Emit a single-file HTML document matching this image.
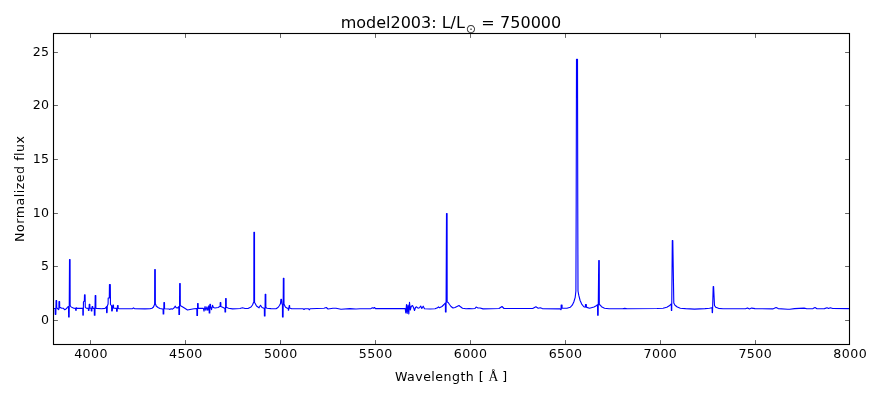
<!DOCTYPE html>
<html>
<head>
<meta charset="utf-8">
<title>model2003 spectrum</title>
<style>
html,body{margin:0;padding:0;background:#fff;}
body{width:880px;height:400px;overflow:hidden;}
svg{display:block;}
text{font-family:"DejaVu Sans","Liberation Sans",sans-serif;fill:#000;}
.tk text{font-size:12.6px;letter-spacing:0.42px;}
.lbl{font-size:12.6px;letter-spacing:0.45px;}
.ttl{font-size:16px;}
.sun{font-family:"DejaVu Sans",sans-serif;font-size:12.4px;fill:#3a3a3a;}
.serif{font-family:"Liberation Serif","DejaVu Serif",serif;font-size:13.6px;}
</style>
</head>
<body>
<svg width="880" height="400" viewBox="0 0 880 400">
<rect x="0" y="0" width="880" height="400" fill="#ffffff"/>
<defs><clipPath id="ax"><rect x="53.5" y="33.5" width="796.0" height="311.0"/></clipPath></defs>
<g clip-path="url(#ax)">
<path d="M53.50,308.50 L55.00,308.50 L55.19,308.50 L55.25,314.35 L55.85,314.35 L56.05,300.55 L56.65,300.55 L56.71,308.00 L57.20,308.20 L58.50,309.70 L58.91,309.00 L58.97,301.65 L59.62,301.65 L59.69,307.60 L60.40,307.60 L61.75,308.30 L63.50,308.30 L64.50,309.60 L65.50,309.40 L67.00,308.00 L68.10,306.50 L68.56,306.50 L68.62,316.95 L69.18,316.95 L69.52,259.45 L70.08,259.45 L70.14,305.50 L70.75,306.60 L72.25,307.60 L73.75,308.20 L75.40,308.40 L75.59,308.40 L75.65,310.15 L76.25,310.15 L76.10,307.75 L76.70,307.75 L76.76,308.30 L77.20,308.40 L82.50,308.30 L82.80,308.30 L82.85,315.10 L83.30,315.10 L83.45,301.80 L84.35,301.00 L84.50,294.90 L85.10,294.90 L85.30,307.30 L86.30,308.20 L88.10,308.40 L88.34,308.40 L88.40,310.35 L89.00,310.35 L89.25,304.25 L89.85,304.25 L89.91,308.20 L90.30,308.30 L91.00,308.30 L91.19,308.30 L91.25,310.85 L91.85,310.85 L92.10,306.45 L92.70,306.45 L92.76,308.30 L93.30,308.40 L94.00,308.40 L94.29,308.40 L94.35,315.15 L94.95,315.15 L95.20,295.45 L95.80,295.45 L95.86,308.20 L96.50,308.40 L101.60,308.80 L105.00,308.40 L106.00,307.50 L106.55,306.50 L106.60,312.60 L107.10,312.60 L107.30,306.00 L108.10,304.00 L108.20,298.00 L109.30,298.00 L109.45,284.50 L110.30,284.50 L110.50,304.50 L111.30,305.50 L111.59,305.80 L111.65,310.85 L112.25,310.85 L112.90,305.15 L113.50,305.15 L113.56,308.00 L114.20,308.30 L116.20,308.40 L116.54,308.40 L116.60,311.25 L117.20,311.25 L117.50,305.55 L118.10,305.55 L118.16,308.30 L118.80,308.60 L130.00,308.70 L132.50,308.70 L133.50,307.80 L134.50,308.70 L145.00,308.90 L150.00,308.70 L152.00,308.20 L153.50,307.00 L154.30,305.00 L154.64,304.00 L154.70,269.65 L155.30,269.65 L155.36,303.50 L156.20,306.00 L158.00,307.50 L160.00,308.50 L162.50,309.00 L163.09,309.00 L163.15,314.05 L163.75,314.05 L163.90,302.45 L164.50,302.45 L164.56,308.70 L165.00,308.80 L169.00,309.00 L170.00,309.40 L171.00,308.70 L172.50,309.10 L174.00,308.00 L175.30,306.20 L176.00,307.60 L177.50,308.00 L178.60,307.00 L178.84,306.50 L178.90,314.55 L179.50,314.55 L179.65,283.45 L180.25,283.45 L180.31,305.50 L181.50,306.30 L184.00,307.80 L187.50,310.00 L190.00,309.50 L194.00,308.70 L196.50,308.50 L196.84,308.50 L196.90,315.45 L197.50,315.45 L197.55,303.55 L198.15,303.55 L198.21,308.40 L198.70,308.40 L203.40,308.40 L204.00,311.25 L205.00,306.50 L205.90,310.30 L206.90,306.90 L207.80,310.30 L208.75,305.90 L209.14,306.50 L209.20,312.95 L209.80,312.95 L209.90,304.20 L210.50,304.20 L210.56,307.00 L210.90,307.50 L211.50,309.70 L212.50,305.30 L213.40,307.50 L215.00,308.00 L218.10,307.50 L219.70,306.60 L220.12,306.40 L220.18,302.65 L220.82,302.65 L220.88,306.40 L221.50,306.80 L223.10,307.50 L224.60,308.30 L224.94,308.30 L225.00,312.05 L225.60,312.05 L225.60,298.55 L226.20,298.55 L226.26,307.20 L227.00,307.60 L228.50,308.20 L232.50,308.90 L240.00,308.50 L242.50,307.80 L245.00,308.50 L248.00,308.50 L251.00,307.00 L252.50,305.00 L253.50,302.50 L253.84,302.00 L253.90,232.20 L254.50,232.20 L254.56,302.50 L255.20,303.50 L256.50,306.00 L259.00,307.80 L260.50,305.30 L262.00,307.50 L264.00,308.30 L264.34,308.30 L264.40,316.05 L265.00,316.05 L265.20,294.25 L265.80,294.25 L265.86,307.50 L267.00,308.20 L271.00,308.60 L276.00,308.80 L278.00,307.50 L279.50,305.50 L280.50,303.50 L280.90,299.30 L281.50,299.30 L281.90,303.80 L282.30,304.50 L282.44,304.50 L282.50,317.05 L283.10,317.05 L283.35,278.25 L283.95,278.25 L284.01,304.00 L285.00,306.30 L286.00,307.60 L287.30,308.30 L288.00,308.40 L288.29,308.40 L288.35,310.15 L288.65,310.15 L289.30,305.45 L289.60,305.45 L289.66,307.80 L290.30,308.20 L291.50,308.60 L293.00,308.70 L303.00,308.80 L304.00,309.50 L305.00,308.80 L308.50,308.80 L309.20,309.80 L310.00,308.80 L324.00,308.20 L326.30,307.50 L328.00,309.00 L333.00,308.20 L336.00,308.20 L341.00,309.20 L350.00,308.60 L356.00,309.00 L360.00,308.80 L371.00,308.60 L372.50,307.80 L373.50,308.30 L374.50,307.50 L375.50,308.60 L405.20,308.60 L405.80,313.00 L406.50,304.50 L407.20,313.50 L408.00,305.00 L408.80,314.00 L409.50,302.20 L410.30,310.00 L411.20,306.50 L412.50,305.50 L413.50,307.50 L414.50,310.50 L415.50,307.50 L416.50,306.80 L418.00,308.20 L419.50,307.80 L420.70,306.00 L421.80,308.50 L423.20,306.20 L424.50,308.70 L430.00,309.00 L435.00,308.70 L437.50,307.80 L438.50,306.80 L439.50,307.80 L442.00,306.50 L444.00,304.50 L445.20,303.00 L445.39,303.00 L445.45,312.05 L446.05,312.05 L446.50,213.45 L447.10,213.45 L447.16,302.00 L448.20,302.50 L449.50,304.50 L451.00,306.50 L453.00,308.00 L455.00,307.50 L457.00,306.50 L459.00,305.50 L460.50,306.80 L462.50,308.20 L466.00,308.80 L469.00,308.50 L472.00,308.80 L475.00,308.50 L476.10,307.10 L478.00,308.00 L480.00,308.00 L483.00,308.90 L499.00,308.50 L502.00,306.50 L504.00,308.50 L532.70,308.50 L535.90,306.80 L538.20,308.20 L540.20,307.80 L542.30,308.60 L560.00,308.90 L561.00,309.70 L561.09,309.50 L561.15,304.95 L562.05,304.95 L562.11,308.30 L562.60,308.30 L567.00,308.20 L570.20,307.30 L572.25,305.20 L573.80,302.00 L575.20,297.30 L575.90,291.00 L576.20,200.00 L576.50,59.30 L577.50,59.30 L577.75,200.00 L578.00,291.00 L578.75,295.20 L580.10,300.50 L581.70,304.10 L583.80,306.75 L585.20,307.20 L585.39,306.80 L585.45,304.45 L586.35,304.45 L586.41,307.20 L586.90,307.40 L589.50,308.20 L594.00,307.00 L596.30,305.80 L597.40,304.75 L597.57,304.75 L597.62,315.25 L598.17,315.25 L598.73,260.45 L599.27,260.45 L599.33,304.50 L600.30,305.20 L601.50,306.70 L604.50,308.20 L609.00,308.80 L622.50,308.80 L624.80,308.35 L627.00,308.80 L657.00,308.50 L663.00,308.20 L666.80,307.30 L669.30,305.80 L670.80,304.30 L671.30,304.00 L671.40,310.40 L671.70,310.40 L672.30,240.50 L672.80,240.50 L673.80,303.00 L675.00,305.20 L677.30,307.00 L680.30,308.20 L685.50,308.65 L694.50,309.10 L705.00,308.65 L709.50,308.20 L711.80,307.75 L712.10,307.50 L712.20,312.60 L712.50,312.60 L713.20,286.50 L713.60,286.50 L714.50,305.50 L715.80,307.30 L718.50,308.35 L723.00,308.80 L745.50,308.80 L747.50,307.90 L749.50,308.90 L751.60,308.10 L755.00,308.60 L772.70,308.90 L776.10,307.50 L778.20,308.60 L787.70,309.30 L789.80,309.30 L794.50,308.60 L804.10,308.10 L806.80,308.80 L813.00,308.60 L815.00,307.50 L817.00,308.80 L824.50,308.60 L827.00,307.70 L828.60,308.40 L830.30,307.70 L832.70,308.50 L849.50,308.60" fill="none" stroke="#0000ff" stroke-width="1.12" stroke-linejoin="round" stroke-linecap="butt"/>
</g>
<g stroke="#000" stroke-width="0.6" fill="none">
<line x1="53.5" x2="57.9" y1="320.5" y2="320.5"/>
<line x1="849.5" x2="845.1" y1="320.5" y2="320.5"/>
<line x1="53.5" x2="57.9" y1="266.5" y2="266.5"/>
<line x1="849.5" x2="845.1" y1="266.5" y2="266.5"/>
<line x1="53.5" x2="57.9" y1="213.5" y2="213.5"/>
<line x1="849.5" x2="845.1" y1="213.5" y2="213.5"/>
<line x1="53.5" x2="57.9" y1="159.5" y2="159.5"/>
<line x1="849.5" x2="845.1" y1="159.5" y2="159.5"/>
<line x1="53.5" x2="57.9" y1="105.5" y2="105.5"/>
<line x1="849.5" x2="845.1" y1="105.5" y2="105.5"/>
<line x1="53.5" x2="57.9" y1="52.5" y2="52.5"/>
<line x1="849.5" x2="845.1" y1="52.5" y2="52.5"/>
<line x1="90.5" x2="90.5" y1="344.5" y2="340.1"/>
<line x1="90.5" x2="90.5" y1="33.5" y2="37.9"/>
<line x1="185.5" x2="185.5" y1="344.5" y2="340.1"/>
<line x1="185.5" x2="185.5" y1="33.5" y2="37.9"/>
<line x1="280.5" x2="280.5" y1="344.5" y2="340.1"/>
<line x1="280.5" x2="280.5" y1="33.5" y2="37.9"/>
<line x1="375.5" x2="375.5" y1="344.5" y2="340.1"/>
<line x1="375.5" x2="375.5" y1="33.5" y2="37.9"/>
<line x1="470.5" x2="470.5" y1="344.5" y2="340.1"/>
<line x1="470.5" x2="470.5" y1="33.5" y2="37.9"/>
<line x1="565.5" x2="565.5" y1="344.5" y2="340.1"/>
<line x1="565.5" x2="565.5" y1="33.5" y2="37.9"/>
<line x1="660.5" x2="660.5" y1="344.5" y2="340.1"/>
<line x1="660.5" x2="660.5" y1="33.5" y2="37.9"/>
<line x1="755.5" x2="755.5" y1="344.5" y2="340.1"/>
<line x1="755.5" x2="755.5" y1="33.5" y2="37.9"/>
<line x1="849.5" x2="849.5" y1="344.5" y2="340.1"/>
<line x1="849.5" x2="849.5" y1="33.5" y2="37.9"/>
</g>
<rect x="53.5" y="33.5" width="796.0" height="311.0" fill="none" stroke="#000" stroke-width="1.11"/>
<g class="tk">
<text x="49.5" y="324.1" text-anchor="end">0</text>
<text x="49.5" y="270.1" text-anchor="end">5</text>
<text x="49.5" y="217.1" text-anchor="end">10</text>
<text x="49.5" y="163.1" text-anchor="end">15</text>
<text x="49.5" y="109.1" text-anchor="end">20</text>
<text x="49.5" y="56.1" text-anchor="end">25</text>
<text x="91.0" y="357.7" text-anchor="middle">4000</text>
<text x="185.9" y="357.7" text-anchor="middle">4500</text>
<text x="280.8" y="357.7" text-anchor="middle">5000</text>
<text x="375.7" y="357.7" text-anchor="middle">5500</text>
<text x="470.6" y="357.7" text-anchor="middle">6000</text>
<text x="565.5" y="357.7" text-anchor="middle">6500</text>
<text x="660.4" y="357.7" text-anchor="middle">7000</text>
<text x="755.3" y="357.7" text-anchor="middle">7500</text>
<text x="850.2" y="357.7" text-anchor="middle">8000</text>
</g>
<text class="lbl" x="395.0" y="380.7">Wavelength [ <tspan class="serif">Å</tspan><tspan dx="-0.9"> ]</tspan></text>
<text class="lbl" style="letter-spacing:0.52px" transform="translate(23.8,242.0) rotate(-90)">Normalized flux</text>
<text class="ttl" x="340.7" y="27.6">model2003: L/L</text>
<text class="sun" x="471.0" y="33.4" text-anchor="middle">⊙</text>
<text class="ttl" x="481.3" y="27.6">=</text>
<text class="ttl" x="500.1" y="27.6">750000</text>
</svg>
</body>
</html>
